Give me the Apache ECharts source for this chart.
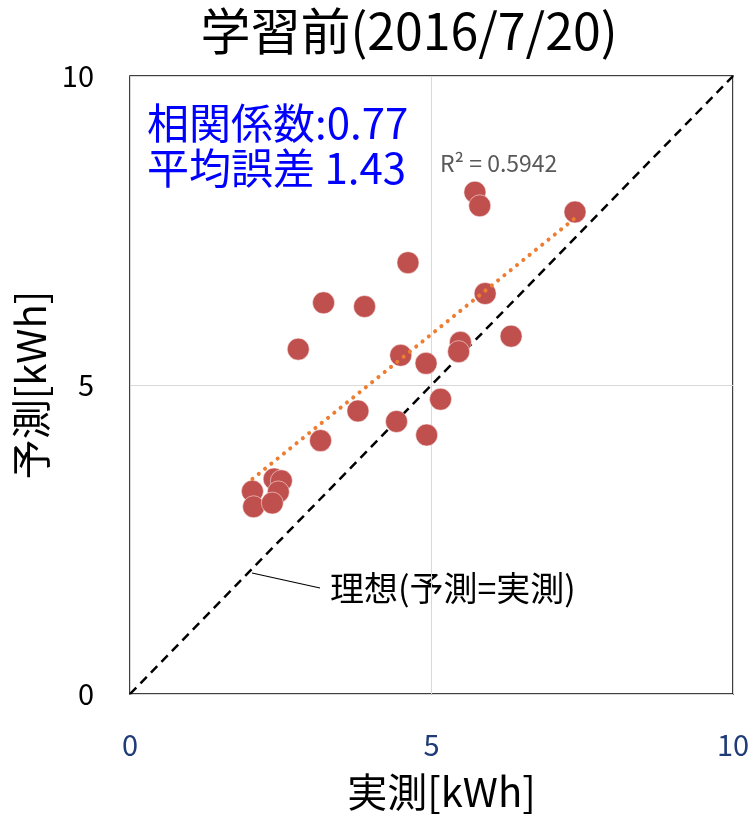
<!DOCTYPE html>
<html><head><meta charset="utf-8">
<script src="https://cdn.jsdelivr.net/npm/echarts@6/dist/echarts.min.js"></script>
<style>html,body{margin:0;padding:0;background:#fff}#c{width:755px;height:816px}</style>
</head><body><div id="c"></div>
<script>
var actual = [5.72,5.80,7.38,4.61,5.89,3.21,3.89,2.79,6.32,5.48,5.45,4.49,4.91,3.78,5.15,4.42,3.16,4.92,2.03,2.05,2.39,2.51,2.46,2.36];
var predicted = [8.12,7.90,7.80,6.98,6.48,6.33,6.27,5.58,5.79,5.69,5.54,5.48,5.35,4.58,4.77,4.41,4.10,4.19,3.28,3.03,3.48,3.45,3.27,3.09];
var trendX = [2.03, 7.38];
var trendY = [3.48, 7.70];
var idealX = [0, 10];
var idealY = [0, 10];
var xTicks = [0, 5, 10];
var yTicks = [0, 5, 10];
var titleText = '学習前(2016/7/20)';
var statLines = ['相関係数:0.77', '平均誤差 1.43'];
var r2Text = 'R² = 0.5942';
var idealLabel = '理想(予測=実測)';
var xName = '実測[kWh]';
var yName = '予測[kWh]';

var FF = "'Noto Sans CJK JP','Noto Sans',sans-serif";
var chart = echarts.init(document.getElementById('c'), null, {renderer:'canvas'});
var pts = actual.map(function(v,i){return [v, predicted[i]];});
var trend = trendX.map(function(v,i){return [v, trendY[i]];});
var ideal = idealX.map(function(v,i){return [v, idealY[i]];});
chart.setOption({
  animation:false,
  backgroundColor:'#fff',
  title:{text:titleText,left:404,top:1,textAlign:'center',textStyle:{fontFamily:FF,fontSize:50,fontWeight:'normal',color:'#000'}},
  grid:{left:130,right:22,top:76,bottom:122,show:true,borderColor:'#000',borderWidth:1.5,backgroundColor:'transparent',outerBoundsMode:'none',containLabel:false},
  xAxis:{type:'value',min:xTicks[0],max:xTicks[xTicks.length-1],interval:5,
    name:xName,nameLocation:'middle',nameGap:78,nameTextStyle:{fontFamily:FF,fontSize:40,color:'#000',verticalAlign:'top',padding:[0,0,0,20]},
    axisLine:{show:false},axisTick:{show:false},
    axisLabel:{margin:36,fontFamily:FF,fontSize:29,color:'#1f3c78'},
    splitLine:{show:true,lineStyle:{color:'#d9d9d9',width:1}}},
  yAxis:{type:'value',min:yTicks[0],max:yTicks[yTicks.length-1],interval:5,
    name:yName,nameLocation:'middle',nameGap:76,nameTextStyle:{fontFamily:FF,fontSize:40,color:'#000'},
    axisLine:{show:false},axisTick:{show:false},
    axisLabel:{margin:36,fontFamily:FF,fontSize:29,color:'#000'},
    splitLine:{show:true,lineStyle:{color:'#d9d9d9',width:1}}},
  series:[
    {type:'line',data:ideal,symbol:'none',silent:true,z:2,
     lineStyle:{color:'#000',width:2.5,type:[9,6]}},
    {type:'scatter',data:pts,symbolSize:22,z:3,
     itemStyle:{color:'#c0504d',opacity:1,borderColor:'rgba(255,255,255,0.5)',borderWidth:1}},
    {type:'line',data:trend,symbol:'none',silent:true,z:4,
     lineStyle:{color:'#ed7d31',width:4,type:[0.1,8],cap:'round'}}
  ],
  graphic:[
    {type:'text',x:147,y:123,style:{text:statLines[0],font:"42px "+FF,fill:'#0000ff',verticalAlign:'middle'}},
    {type:'text',x:147,y:168,style:{text:statLines[1],font:"42px "+FF,fill:'#0000ff',verticalAlign:'middle'}},
    {type:'text',x:440,y:163,style:{text:r2Text,font:"23px "+FF,fill:'#595959',verticalAlign:'middle'}},
    {type:'text',x:330,y:588,style:{text:idealLabel,font:"34px "+FF,fill:'#000',verticalAlign:'middle'}},
    {type:'line',shape:{x1:252,y1:573,x2:320,y2:588},style:{stroke:'#000',lineWidth:1.2}}
  ]
});
</script></body></html>
